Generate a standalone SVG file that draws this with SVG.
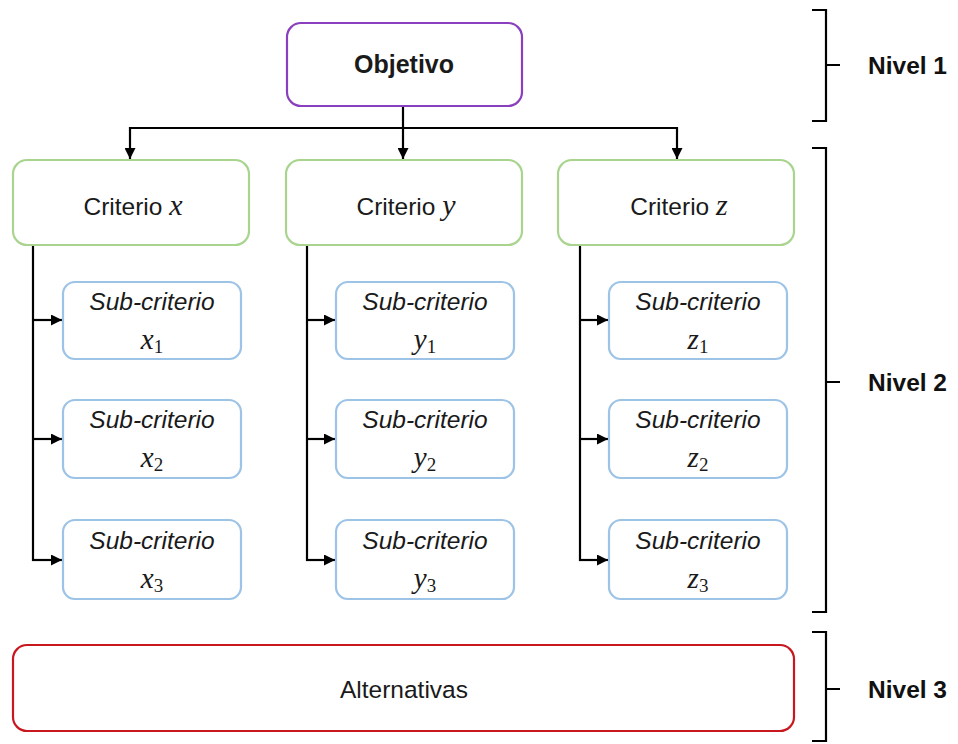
<svg xmlns="http://www.w3.org/2000/svg" width="958" height="744" viewBox="0 0 958 744">
  <style>
    .box { fill: #ffffff; stroke-width: 2.2; }
    .goal { stroke: #8a3fbf; }
    .crit { stroke: #a9d48e; }
    .sub { stroke: #9dc3e6; }
    .alt { stroke: #c8171e; }
    .t { font-family: "Liberation Sans", Arial, sans-serif; fill: #1a1a1a; text-anchor: middle; }
    .si { font-size: 24.5px; font-style: italic; }
    .m { font-family: "Liberation Serif", "DejaVu Serif", serif; font-style: italic; }
    .sm { font-size: 29px; }
    .sb { font-style: normal; font-size: 19px; }
    .lvl { font-family: "Liberation Sans", Arial, sans-serif; font-weight: bold; font-size: 24.5px; fill: #111; }
    .ln { fill: none; stroke: #000; stroke-width: 2.2; }
  </style>
  <defs>
    <marker id="arr" viewBox="0 0 10 10" refX="10" refY="5" markerWidth="5" markerHeight="5" orient="auto" markerUnits="strokeWidth">
      <path d="M0,0 L10,5 L0,10 z" fill="#000"/>
    </marker>
  </defs>
  <rect width="958" height="744" fill="#ffffff"/>

  <!-- connectors -->
  <g id="connectors">
    <path class="ln" d="M403,107 V128 M130,128 H677"/>
    <path class="ln" d="M130,127 V159" marker-end="url(#arr)"/>
    <path class="ln" d="M403,128 V159" marker-end="url(#arr)"/>
    <path class="ln" d="M677,127 V159" marker-end="url(#arr)"/>

    <path class="ln" d="M33,246 V561"/>
    <path class="ln" d="M32,320 H62" marker-end="url(#arr)"/>
    <path class="ln" d="M32,439 H62" marker-end="url(#arr)"/>
    <path class="ln" d="M32,560 H62" marker-end="url(#arr)"/>

    <path class="ln" d="M307,246 V561"/>
    <path class="ln" d="M306,320 H335" marker-end="url(#arr)"/>
    <path class="ln" d="M306,439 H335" marker-end="url(#arr)"/>
    <path class="ln" d="M306,560 H335" marker-end="url(#arr)"/>

    <path class="ln" d="M580,246 V561"/>
    <path class="ln" d="M579,320 H608" marker-end="url(#arr)"/>
    <path class="ln" d="M579,439 H608" marker-end="url(#arr)"/>
    <path class="ln" d="M579,560 H608" marker-end="url(#arr)"/>
  </g>

  <!-- level 1 -->
  <g id="objetivo">
    <rect class="box goal" x="287" y="23" width="235" height="83" rx="14"/>
    <text class="t" x="404" y="73" font-size="25" font-weight="bold">Objetivo</text>
  </g>

  <!-- level 2: criteria -->
  <g id="criterio-x">
    <rect class="box crit" x="13" y="160" width="236" height="85" rx="14"/>
    <text class="t" x="133" y="215" font-size="24.5">Criterio <tspan class="m" font-size="30">x</tspan></text>
  </g>
  <g id="criterio-y">
    <rect class="box crit" x="286" y="160" width="236" height="85" rx="14"/>
    <text class="t" x="406" y="215" font-size="24.5">Criterio <tspan class="m" font-size="30">y</tspan></text>
  </g>
  <g id="criterio-z">
    <rect class="box crit" x="558" y="160" width="236" height="85" rx="14"/>
    <text class="t" x="679" y="215" font-size="24.5">Criterio <tspan class="m" font-size="30">z</tspan></text>
  </g>

  <!-- level 2: sub-criteria -->
  <g id="sub-x1">
    <rect class="box sub" x="63" y="282" width="178" height="77" rx="12"/>
    <text class="t si" x="152" y="310">Sub-criterio</text>
    <text class="t m sm" x="152" y="349">x<tspan class="sb" dy="4">1</tspan></text>
  </g>
  <g id="sub-x2">
    <rect class="box sub" x="63" y="400" width="178" height="78" rx="12"/>
    <text class="t si" x="152" y="428">Sub-criterio</text>
    <text class="t m sm" x="152" y="467">x<tspan class="sb" dy="4">2</tspan></text>
  </g>
  <g id="sub-x3">
    <rect class="box sub" x="63" y="520" width="178" height="79" rx="12"/>
    <text class="t si" x="152" y="549">Sub-criterio</text>
    <text class="t m sm" x="152" y="588">x<tspan class="sb" dy="4">3</tspan></text>
  </g>

  <g id="sub-y1">
    <rect class="box sub" x="336" y="282" width="178" height="77" rx="12"/>
    <text class="t si" x="425" y="310">Sub-criterio</text>
    <text class="t m sm" x="425" y="349">y<tspan class="sb" dy="4">1</tspan></text>
  </g>
  <g id="sub-y2">
    <rect class="box sub" x="336" y="400" width="178" height="78" rx="12"/>
    <text class="t si" x="425" y="428">Sub-criterio</text>
    <text class="t m sm" x="425" y="467">y<tspan class="sb" dy="4">2</tspan></text>
  </g>
  <g id="sub-y3">
    <rect class="box sub" x="336" y="520" width="178" height="79" rx="12"/>
    <text class="t si" x="425" y="549">Sub-criterio</text>
    <text class="t m sm" x="425" y="588">y<tspan class="sb" dy="4">3</tspan></text>
  </g>

  <g id="sub-z1">
    <rect class="box sub" x="609" y="282" width="178" height="77" rx="12"/>
    <text class="t si" x="698" y="310">Sub-criterio</text>
    <text class="t m sm" x="698" y="349">z<tspan class="sb" dy="4">1</tspan></text>
  </g>
  <g id="sub-z2">
    <rect class="box sub" x="609" y="400" width="178" height="78" rx="12"/>
    <text class="t si" x="698" y="428">Sub-criterio</text>
    <text class="t m sm" x="698" y="467">z<tspan class="sb" dy="4">2</tspan></text>
  </g>
  <g id="sub-z3">
    <rect class="box sub" x="609" y="520" width="178" height="79" rx="12"/>
    <text class="t si" x="698" y="549">Sub-criterio</text>
    <text class="t m sm" x="698" y="588">z<tspan class="sb" dy="4">3</tspan></text>
  </g>

  <!-- level 3 -->
  <g id="alternativas">
    <rect class="box alt" x="13" y="645" width="781" height="86" rx="14"/>
    <text class="t" x="404" y="698" font-size="24.5">Alternativas</text>
  </g>

  <!-- level brackets -->
  <g id="brackets">
    <path class="ln" d="M812,10 H826 V121 H812 M826,65 H840"/>
    <path class="ln" d="M812,148 H826 V612 H812 M826,382 H840"/>
    <path class="ln" d="M812,632 H826 V741 H812 M826,689 H840"/>
    <text class="lvl" x="868" y="74">Nivel 1</text>
    <text class="lvl" x="868" y="391">Nivel 2</text>
    <text class="lvl" x="868" y="698">Nivel 3</text>
  </g>
</svg>
